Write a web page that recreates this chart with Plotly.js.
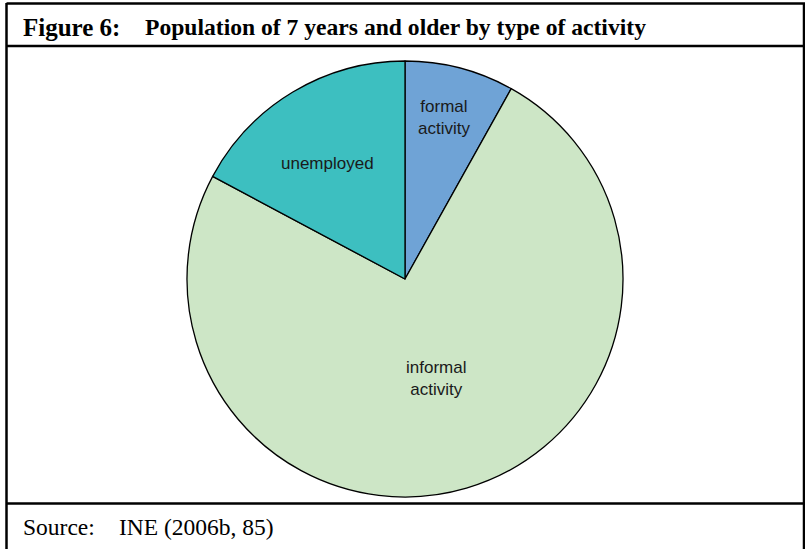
<!DOCTYPE html>
<html><head><meta charset="utf-8">
<script src="https://cdn.plot.ly/plotly-3.0.1.min.js"></script>
<style>html,body{margin:0;padding:0;background:#fff;}#chart{width:805px;height:549px;}</style>
</head><body><div id="chart"></div>
<script>
const labels = ["formal activity", "informal activity", "unemployed"];
const labelText = ["formal<br>activity", "informal<br>activity", "unemployed"];
const values = [8.1, 74.7, 17.2];
const colors = ["#6fa3d6", "#cde6c6", "#3dbfc0"];
const titleNum = "Figure 6:";
const titleText = "Population of 7 years and older by type of activity";
const sourceLbl = "Source:";
const sourceText = "INE (2006b, 85)";

const W = 805, H = 549;
const cx = 405, cy = 279, R = 218;
const px = x => x / W, py = y => 1 - y / H;

const labelPos = [[444, 117], [436, 378], [327, 163]];

const annotations = labels.map((l, i) => ({
  text: labelText[i], x: px(labelPos[i][0]), y: py(labelPos[i][1]),
  xref: 'paper', yref: 'paper', xanchor: 'center', yanchor: 'middle',
  showarrow: false, align: 'center',
  font: {family: 'Liberation Sans, Arial', size: 17, color: '#1a1a1a'}
}));
const serif = 'Liberation Serif, Times New Roman';
annotations.push(
  {text: '<b>' + titleNum + '</b>', x: px(21), y: py(27), xref: 'paper', yref: 'paper', xanchor: 'left', yanchor: 'middle', showarrow: false, font: {family: serif, size: 25, color: '#000'}},
  {text: '<b>' + titleText + '</b>', x: px(143), y: py(27), xref: 'paper', yref: 'paper', xanchor: 'left', yanchor: 'middle', showarrow: false, font: {family: serif, size: 23.6, color: '#000'}},
  {text: sourceLbl, x: px(21), y: py(527), xref: 'paper', yref: 'paper', xanchor: 'left', yanchor: 'middle', showarrow: false, font: {family: serif, size: 23.5, color: '#000'}},
  {text: sourceText, x: px(117), y: py(527), xref: 'paper', yref: 'paper', xanchor: 'left', yanchor: 'middle', showarrow: false, font: {family: serif, size: 23.5, color: '#000'}}
);

const lineStyle = {color: '#000', width: 2.5};
const shapes = [
  {type: 'line', xref: 'paper', yref: 'paper', x0: px(6.5), x1: px(6.5), y0: py(3), y1: py(549), line: lineStyle},
  {type: 'line', xref: 'paper', yref: 'paper', x0: px(804), x1: px(804), y0: py(3), y1: py(549), line: lineStyle},
  {type: 'line', xref: 'paper', yref: 'paper', x0: px(6.5), x1: px(805), y0: py(3.5), y1: py(3.5), line: lineStyle},
  {type: 'line', xref: 'paper', yref: 'paper', x0: px(6.5), x1: px(805), y0: py(46), y1: py(46), line: lineStyle},
  {type: 'line', xref: 'paper', yref: 'paper', x0: px(6.5), x1: px(805), y0: py(503.5), y1: py(503.5), line: lineStyle}
];

const trace = {
  type: 'pie', labels: labels, values: values, sort: false, direction: 'clockwise', rotation: 0,
  marker: {colors: colors, line: {color: '#000', width: 1.3}},
  textinfo: 'none', hoverinfo: 'label+percent', showlegend: false,
  domain: {x: [px(cx - R), px(cx + R)], y: [py(cy + R), py(cy - R)]}
};

Plotly.newPlot('chart', [trace], {
  width: W, height: H, margin: {l: 0, r: 0, t: 0, b: 0},
  paper_bgcolor: '#fff', plot_bgcolor: '#fff', showlegend: false,
  annotations: annotations, shapes: shapes
}, {displayModeBar: false, staticPlot: true});
</script></body></html>
